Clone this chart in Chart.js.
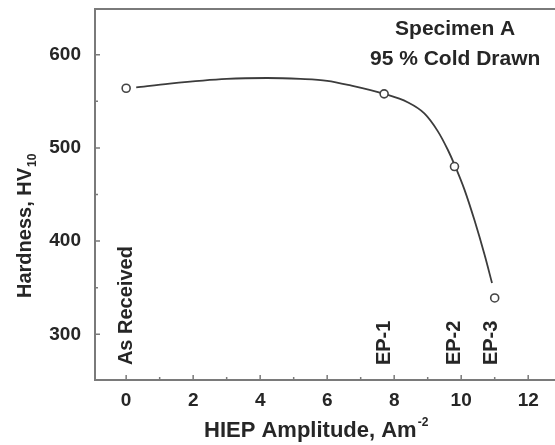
<!DOCTYPE html>
<html>
<head>
<meta charset="utf-8">
<title>Hardness vs HIEP Amplitude</title>
<script src="https://cdn.jsdelivr.net/npm/chart.js@4.4.0/dist/chart.umd.min.js"></script>
<style>
    html, body { margin: 0; padding: 0; background: #fff; overflow: hidden; }
    canvas { display: block; }
</style>
</head>
<body>
<canvas id="hardness-chart" width="555" height="445"></canvas>
<script>
// --- DADOS ---
// Pontos medidos (marcadores)
const measuredX = [0, 7.7, 9.8, 11.0];
const measuredY = [564, 558, 480, 339];

// Curva ajustada
const curveX = [0.3, 1.3, 3.0, 4.2, 5.2, 6.0, 6.7, 7.7, 8.4, 8.9, 9.3, 9.6, 9.8, 10.1, 10.4, 10.7, 10.92];
const curveY = [565, 569, 574, 575, 574, 572, 567, 558, 549, 537, 518, 498, 482, 455, 422, 385, 355];

// Rótulos verticais dos pontos
const pointLabels = ['As Received', 'EP-1', 'EP-2', 'EP-3'];
const pointLabelX = [0, 7.7, 9.8, 10.9];
const pointLabelY = 267;

// Ticks
const xTicks = [0, 2, 4, 6, 8, 10, 12];
const xMinorTicks = [1, 3, 5, 7, 9, 11];
const yTicks = [300, 400, 500, 600];
const yMinorTicks = [350, 450, 550];

// Textos
const annotationLines = ['Specimen A', '95 % Cold Drawn'];
const annotationX = 9.82;
const annotationY = [620.8, 588.6];

const FONT = "'Liberation Sans', Arial, sans-serif";
const TEXT_COLOR = '#262626';
const AXIS_COLOR = '#7a7a7a';

// --- PLUGIN: moldura, ticks internos e textos ---
const decorPlugin = {
    id: 'decor',
    beforeDatasetsDraw(chart) {
        const { ctx, chartArea, scales } = chart;
        const xs = scales.x, ys = scales.y;
        ctx.save();
        ctx.strokeStyle = AXIS_COLOR;
        ctx.lineWidth = 2;
        // linha superior da moldura
        ctx.beginPath();
        ctx.moveTo(chartArea.left, chartArea.top);
        ctx.lineTo(chartArea.right, chartArea.top);
        ctx.stroke();

        ctx.lineWidth = 1.5;
        ctx.beginPath();
        xTicks.forEach(v => {
            const px = xs.getPixelForValue(v);
            ctx.moveTo(px, chartArea.bottom); ctx.lineTo(px, chartArea.bottom - 5);
        });
        xMinorTicks.forEach(v => {
            const px = xs.getPixelForValue(v);
            ctx.moveTo(px, chartArea.bottom); ctx.lineTo(px, chartArea.bottom - 3);
        });
        yTicks.forEach(v => {
            const py = ys.getPixelForValue(v);
            ctx.moveTo(chartArea.left, py); ctx.lineTo(chartArea.left + 5, py);
        });
        yMinorTicks.forEach(v => {
            const py = ys.getPixelForValue(v);
            ctx.moveTo(chartArea.left, py); ctx.lineTo(chartArea.left + 3, py);
        });
        ctx.stroke();
        ctx.restore();
    },
    afterDraw(chart) {
        const { ctx, scales } = chart;
        const xs = scales.x, ys = scales.y;
        ctx.save();
        ctx.fillStyle = TEXT_COLOR;

        // rótulos verticais
        ctx.font = `bold 20px ${FONT}`;
        ctx.textAlign = 'left';
        ctx.textBaseline = 'middle';
        pointLabels.forEach((txt, i) => {
            ctx.save();
            ctx.translate(xs.getPixelForValue(pointLabelX[i]), ys.getPixelForValue(pointLabelY));
            ctx.rotate(-Math.PI / 2);
            ctx.fillText(txt, 0, 0);
            ctx.restore();
        });

        // anotação
        ctx.font = `bold 21px ${FONT}`;
        ctx.textAlign = 'center';
        ctx.textBaseline = 'alphabetic';
        annotationLines.forEach((txt, i) => {
            ctx.fillText(txt, xs.getPixelForValue(annotationX), ys.getPixelForValue(annotationY[i]));
        });

        // título do eixo X com sobrescrito
        ctx.textAlign = 'left';
        ctx.font = `bold 22px ${FONT}`;
        const xMain = 'HIEP Amplitude, Am';
        const xw = ctx.measureText(xMain).width;
        const xStart = 204;
        ctx.fillText(xMain, xStart, 437);
        ctx.font = `bold 12px ${FONT}`;
        ctx.fillText('-2', xStart + xw + 1, 426);

        // título do eixo Y com subscrito
        ctx.save();
        ctx.translate(31, 298);
        ctx.rotate(-Math.PI / 2);
        ctx.font = `bold 20px ${FONT}`;
        const yMain = 'Hardness, HV';
        const yw = ctx.measureText(yMain).width;
        ctx.fillText(yMain, 0, 0);
        ctx.font = `bold 12px ${FONT}`;
        ctx.fillText('10', yw + 1, 5);
        ctx.restore();

        ctx.restore();
    }
};

// --- GRÁFICO ---
const canvas = document.getElementById('hardness-chart');

new Chart(canvas, {
    type: 'scatter',
    data: {
        datasets: [
            {
                label: 'Fit',
                data: curveX.map((x, i) => ({ x: x, y: curveY[i] })),
                showLine: true,
                borderColor: '#3c3c3c',
                borderWidth: 1.8,
                pointRadius: 0,
                cubicInterpolationMode: 'monotone',
                order: 2,
            },
            {
                label: 'Measured',
                data: measuredX.map((x, i) => ({ x: x, y: measuredY[i] })),
                showLine: false,
                pointRadius: 4,
                pointBorderWidth: 1.6,
                pointBorderColor: '#444',
                pointBackgroundColor: '#fff',
                order: 1,
            }
        ]
    },
    options: {
        responsive: false,
        animation: false,
        devicePixelRatio: 1,
        layout: { autoPadding: false, padding: { top: 9, left: 0, right: 0, bottom: 0 } },
        plugins: {
            legend: { display: false },
            tooltip: { enabled: false },
        },
        scales: {
            x: {
                type: 'linear',
                min: -0.93,
                max: 12.8,
                afterBuildTicks: scale => { scale.ticks = xTicks.map(v => ({ value: v })); },
                afterFit: scale => {
                    scale.height = 65;
                    scale.paddingLeft = 0;
                    scale.paddingRight = 0;
                },
                grid: { display: false },
                border: { display: true, color: AXIS_COLOR, width: 2 },
                ticks: {
                    color: TEXT_COLOR,
                    font: { family: FONT, size: 19, weight: 'bold' },
                    padding: 1,
                    maxRotation: 0,
                },
            },
            y: {
                type: 'linear',
                min: 251,
                max: 649,
                afterBuildTicks: scale => { scale.ticks = yTicks.map(v => ({ value: v })); },
                afterFit: scale => {
                    scale.width = 95;
                    scale.paddingTop = 0;
                    scale.paddingBottom = 0;
                },
                grid: { display: false },
                border: { display: true, color: AXIS_COLOR, width: 2 },
                ticks: {
                    color: TEXT_COLOR,
                    font: { family: FONT, size: 19, weight: 'bold' },
                    padding: 6,
                },
            },
        },
    },
    plugins: [decorPlugin],
});
</script>
</body>
</html>
